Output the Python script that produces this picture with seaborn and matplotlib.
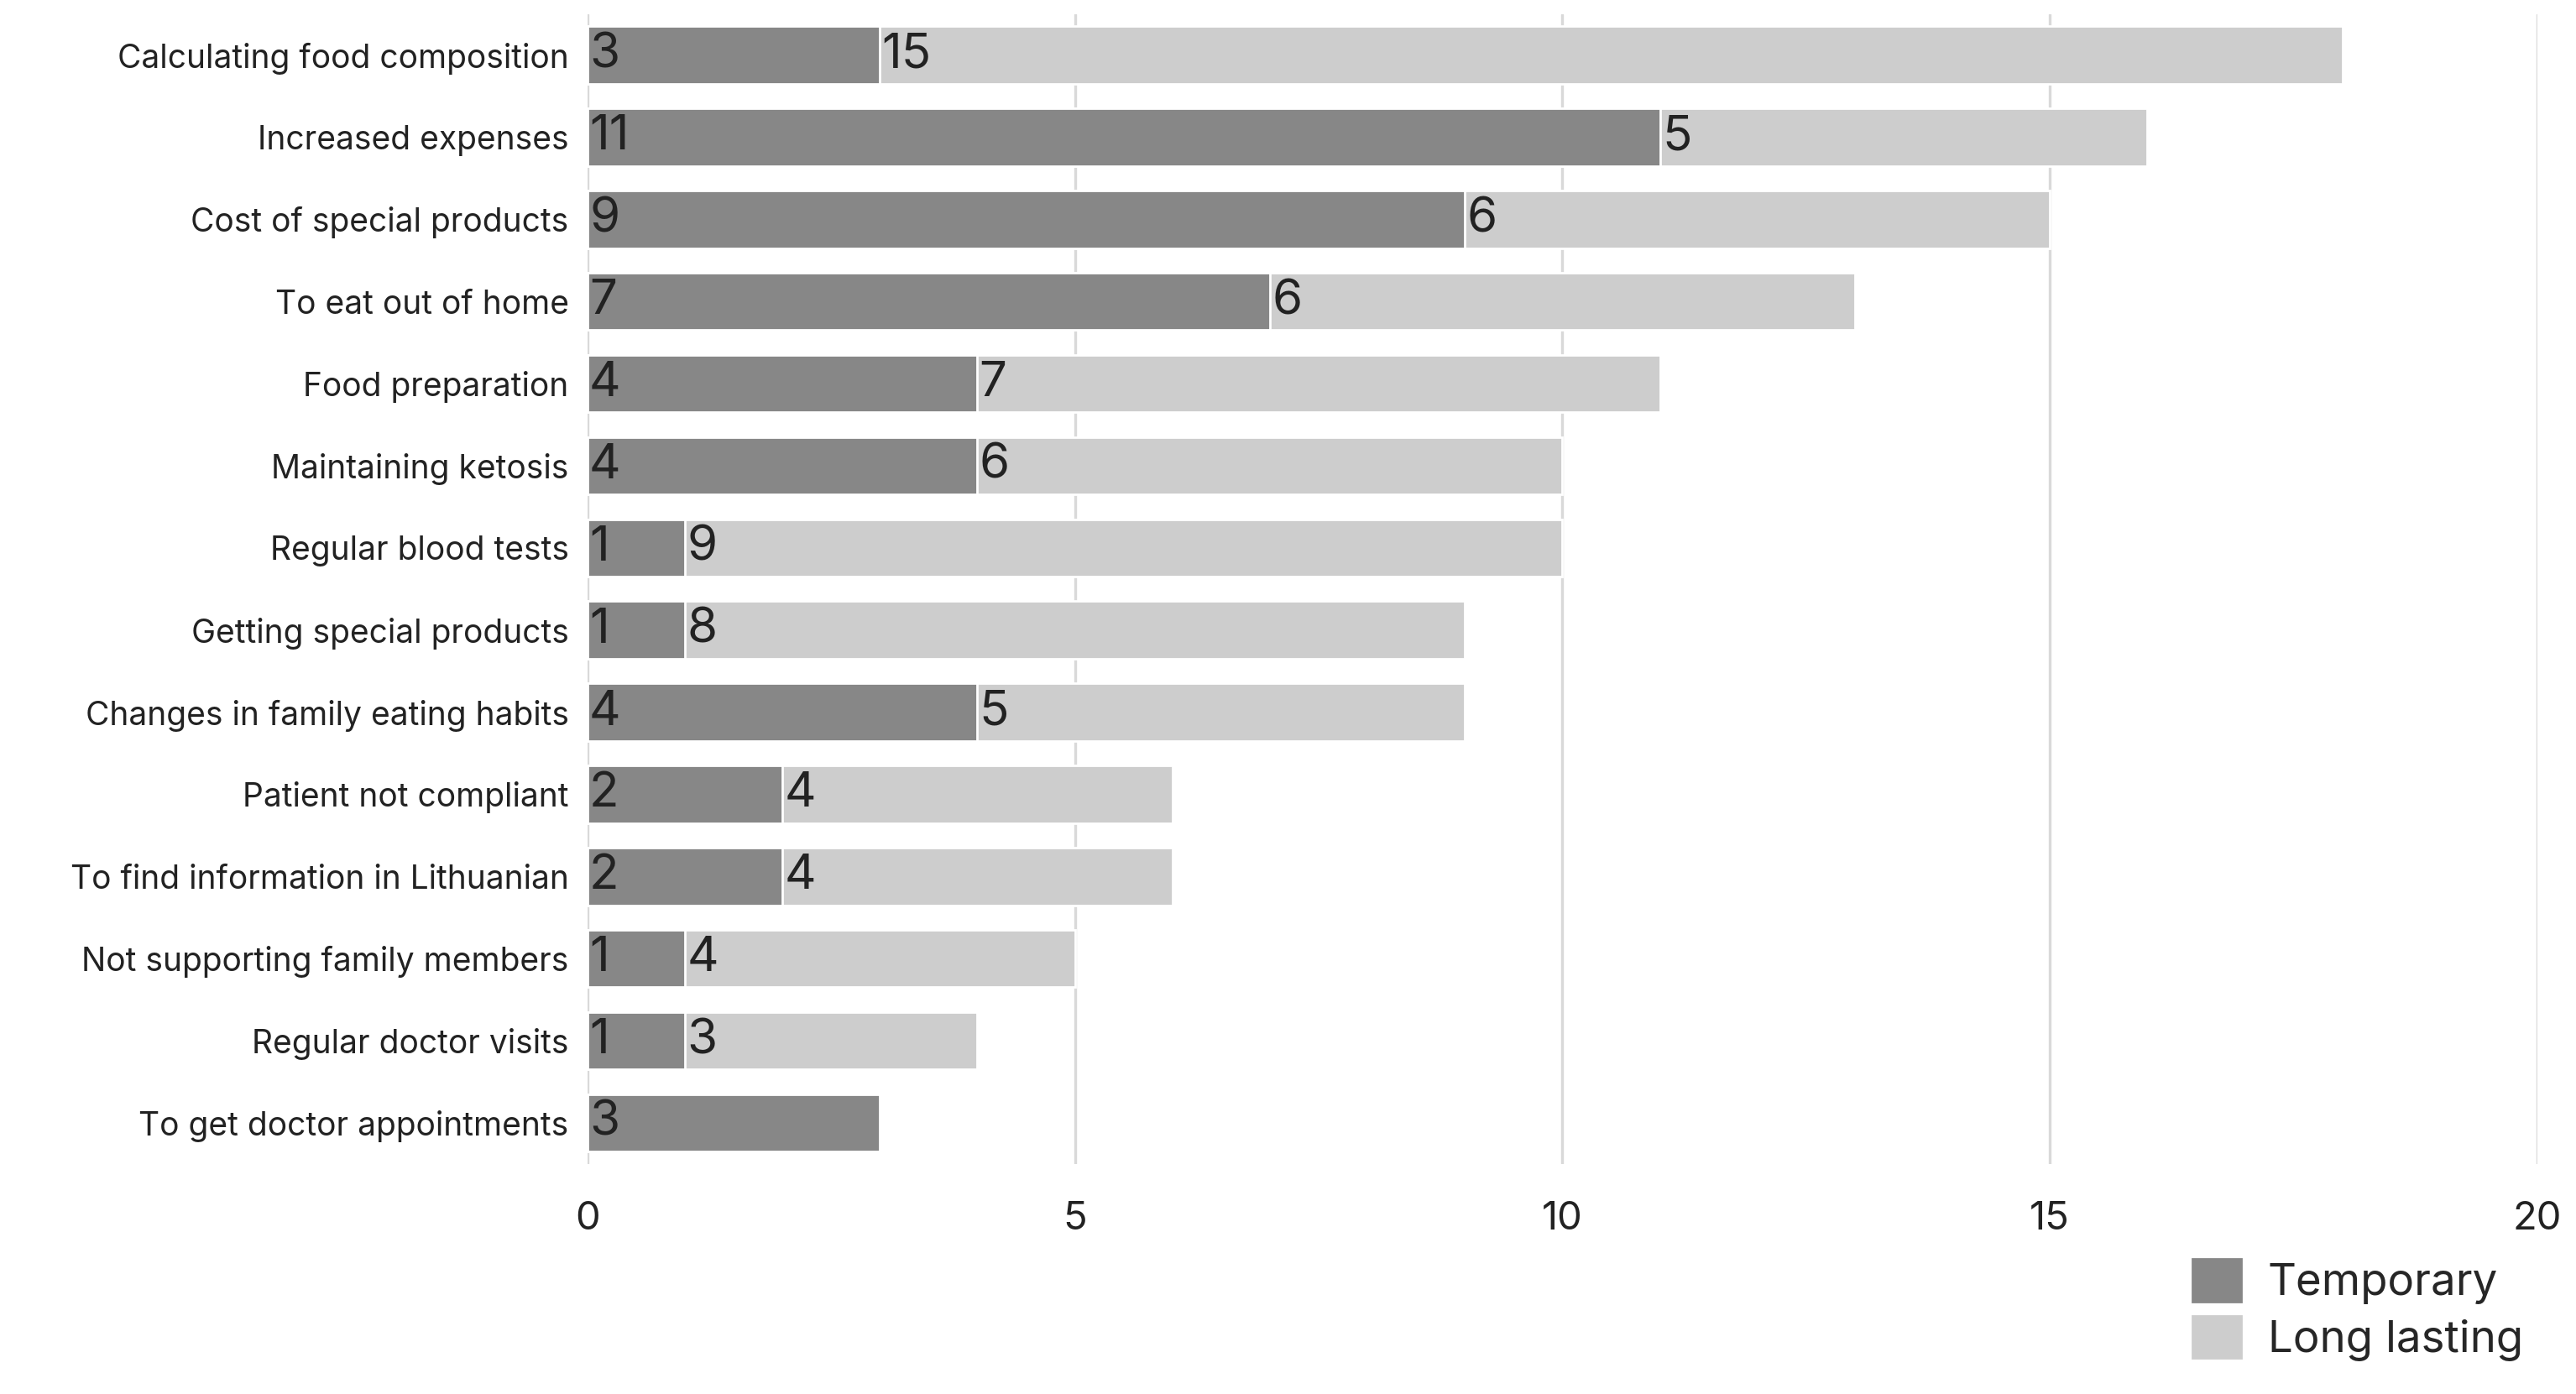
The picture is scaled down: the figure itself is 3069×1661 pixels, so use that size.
import matplotlib
matplotlib.use("Agg")
import matplotlib.pyplot as plt
import seaborn as sns
import pandas as pd
from matplotlib.patches import Patch

categories = ["Calculating food composition", "Increased expenses", "Cost of special products",
              "To eat out of home", "Food preparation", "Maintaining ketosis", "Regular blood tests",
              "Getting special products", "Changes in family eating habits", "Patient not compliant",
              "To find information in Lithuanian", "Not supporting family members",
              "Regular doctor visits", "To get doctor appointments"]
temporary = [3, 11, 9, 7, 4, 4, 1, 1, 4, 2, 2, 1, 1, 3]
long_lasting = [15, 5, 6, 6, 7, 6, 9, 8, 5, 4, 4, 4, 3, 0]

dark, light = "#878787", "#cdcdcd"
df = pd.DataFrame({"cat": categories, "temp": temporary, "long": long_lasting})
df["total"] = df["temp"] + df["long"]

sns.set_theme(style="white")
plt.rcParams["font.family"] = ["Inter", "DejaVu Sans"]
fig = plt.figure(figsize=(15.345, 8.305), dpi=200)
ax = fig.add_axes([0.228, 0.165, 0.757, 0.825])
sns.barplot(data=df, y="cat", x="total", color=light, width=0.7, saturation=1, ax=ax, zorder=2)
sns.barplot(data=df, y="cat", x="temp", color=dark, width=0.7, saturation=1, ax=ax, zorder=3)
for i, (t, l) in enumerate(zip(temporary, long_lasting)):
    ax.text(0.02, i, str(t), va="center", ha="left", fontsize=21, color="#222", zorder=4)
    if l > 0:
        ax.text(t + 0.02, i, str(l), va="center", ha="left", fontsize=21, color="#222", zorder=4)
ax.set_xlim(0, 20)
ax.set_xticks([0, 5, 10, 15, 20])
ax.xaxis.grid(True, color="#d9d9d9", lw=1.2, zorder=0)
ax.set_axisbelow(True)
for s in ax.spines.values():
    s.set_visible(False)
ax.set_xlabel(""); ax.set_ylabel("")
ax.tick_params(axis="x", labelsize=17, pad=10, colors="#222")
ax.tick_params(axis="y", labelsize=14, pad=8, colors="#222", length=0)
ax.set_ylim(13.5, -0.5)
handles = [Patch(color=dark, label="Temporary"), Patch(color=light, label="Long lasting")]
fig.legend(handles=handles, loc="lower right", bbox_to_anchor=(0.995, -0.005), frameon=False,
           fontsize=19, handlelength=1.1, handleheight=1.1, handletextpad=0.6, labelspacing=0.25)
fig.savefig("out.png", dpi=200)
